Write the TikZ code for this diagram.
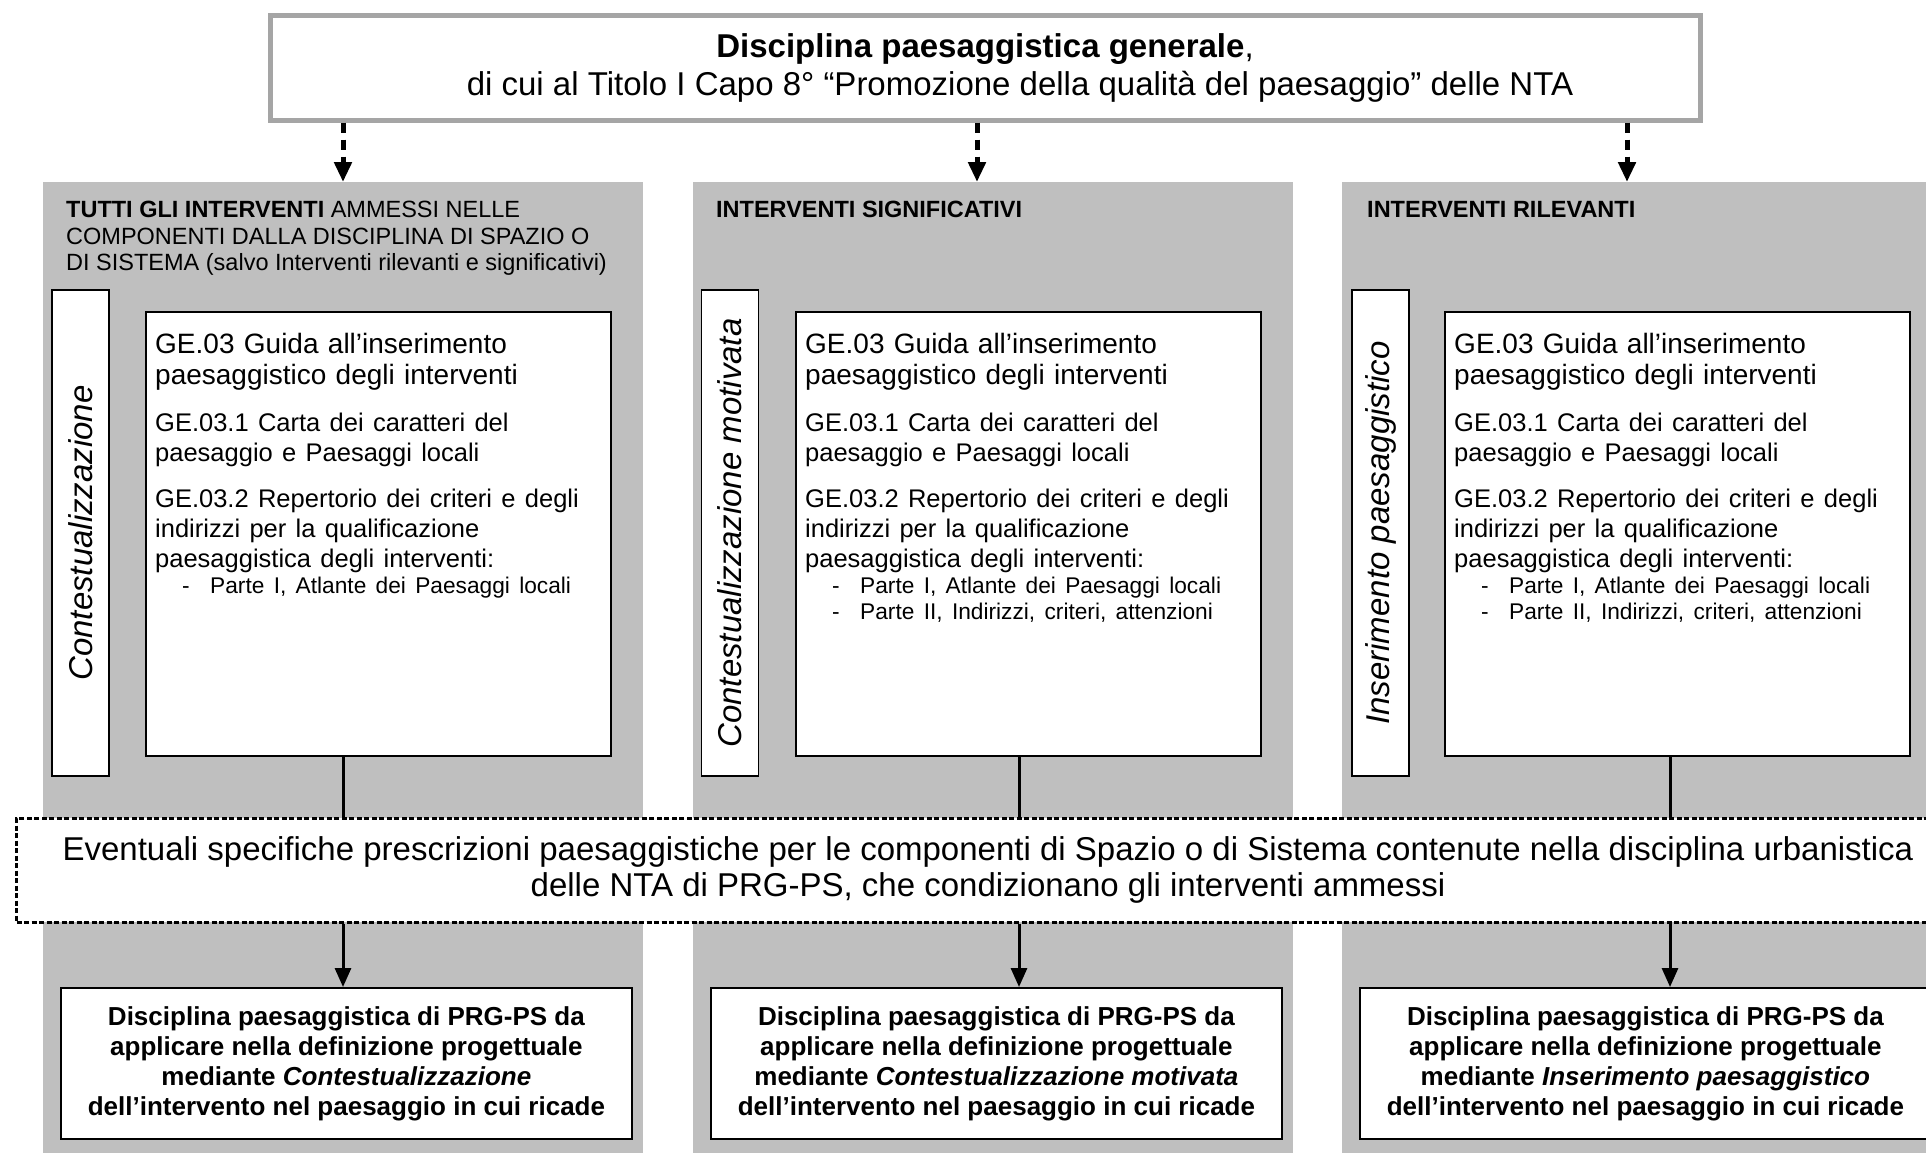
\documentclass[tikz,border=0pt]{standalone}
\usepackage{fontspec}
\setmainfont{Liberation Sans}
\usetikzlibrary{arrows.meta}

\definecolor{panelgray}{RGB}{191,191,191}
\definecolor{framegray}{RGB}{165,165,165}
\setlength{\parindent}{0pt}

\newcommand{\parte}[1]{\makebox[55pt][l]{\hspace*{27pt}-}#1\par}
\newcommand{\guidetext}[1]{%
  GE.03 Guida all’inserimento\\
  paesaggistico degli interventi\par\vspace{17pt}
  \fontsize{25.5}{30}\selectfont
  GE.03.1 Carta dei caratteri del\\
  paesaggio e Paesaggi locali\par\vspace{16pt}
  GE.03.2 Repertorio dei criteri e degli\\
  indirizzi per la qualificazione\\
  paesaggistica degli interventi:\par
  \fontsize{22.7}{26}\selectfont #1}

\begin{document}
\begin{tikzpicture}[x=1pt, y=-1pt,
    panel/.style={fill=panelgray, inner sep=0, minimum width=600, minimum height=980, anchor=north west},
    box/.style={draw, fill=white, line width=1.8pt, inner sep=0},
    topbox/.style={box, draw=framegray, line width=5pt, minimum width=1430, minimum height=105, align=center, font=\fontsize{33}{38}\selectfont},
    sidebox/.style={box, rotate=90, minimum width=486, minimum height=57, font=\fontsize{33}{38}\selectfont\itshape},
    guidebox/.style={box, minimum width=465, minimum height=444, anchor=north west},
    resultbox/.style={box, minimum width=571, minimum height=151, anchor=north west, align=center, font=\fontsize{26}{30}\selectfont\bfseries},
    band/.style={box, line width=3pt, dash pattern=on 5pt off 2.5pt, minimum width=1943, minimum height=104, align=center, font=\fontsize{33}{36}\selectfont},
    head/.style={anchor=north west, inner sep=0, align=left, font=\fontsize{23.5}{26.5}\selectfont},
    guide/.style={anchor=north west, inner sep=0, text width=455, align=left, font=\fontsize{28}{31}\selectfont},
    dasharrow/.style={line width=5pt, dash pattern=on 10pt off 7pt, -{Triangle[length=20pt, width=17pt]}},
    link/.style={line width=3pt},
    linkarrow/.style={link, -{Triangle[length=19pt, width=16pt]}}]

    \useasboundingbox (0,0) rectangle (1926,1152);

    \coordinate (a1) at (343,0);
    \coordinate (a2) at (977,0);
    \coordinate (a3) at (1627,0);
    \coordinate (b1) at (343,0);
    \coordinate (b2) at (1019,0);
    \coordinate (b3) at (1670,0);

    \node[topbox] (top) at (985,67.5) {\textbf{Disciplina paesaggistica generale},\\
        \hspace*{70pt}di cui al Titolo I Capo 8° “Promozione della qualità del paesaggio” delle NTA};

    \node[panel] (p1) at (43,182) {};
    \node[panel] (p2) at (693,182) {};
    \node[panel] (p3) at (1342,182) {};

    \draw[dasharrow] (top.south -| a1) -- (p1.north -| a1);
    \draw[dasharrow] (top.south -| a2) -- (p2.north -| a2);
    \draw[dasharrow] (top.south -| a3) -- (p3.north -| a3);

    \node[head] (h1) at (66,201) {{\bfseries TUTTI GLI INTERVENTI} AMMESSI NELLE\\
        COMPONENTI DALLA DISCIPLINA DI SPAZIO O\\
        DI SISTEMA (salvo Interventi rilevanti e significativi)};
    \node[head] (h2) at (716,201) {\bfseries INTERVENTI SIGNIFICATIVI};
    \node[head] (h3) at (1367,201) {\bfseries INTERVENTI RILEVANTI};

    \node[sidebox] (s1) at (80.5,533) {Contestualizzazione};
    \node[sidebox] (s2) at (730,533) {Contestualizzazione motivata};
    \node[sidebox] (s3) at (1380.5,533) {Inserimento paesaggistico};

    \node[guidebox] (g1) at (145,311) {};
    \node[guidebox] (g2) at (795,311) {};
    \node[guidebox] (g3) at (1444,311) {};
    \node[guide] (t1) at (155,333) {\guidetext{\parte{Parte I, Atlante dei Paesaggi locali}}};
    \node[guide] (t2) at (805,333) {\guidetext{\parte{Parte I, Atlante dei Paesaggi locali}\parte{Parte II, Indirizzi, criteri, attenzioni}}};
    \node[guide] (t3) at (1454,333) {\guidetext{\parte{Parte I, Atlante dei Paesaggi locali}\parte{Parte II, Indirizzi, criteri, attenzioni}}};

    \draw[link] (g1.south -| b1) -- (818,818 -| b1);
    \draw[link] (g2.south -| b2) -- (818,818 -| b2);
    \draw[link] (g3.south -| b3) -- (818,818 -| b3);

    \node[band] (band) at (988,870) {Eventuali specifiche prescrizioni paesaggistiche per le componenti di Spazio o di Sistema contenute nella disciplina urbanistica\\
        delle NTA di PRG-PS, che condizionano gli interventi ammessi};

    \node[resultbox] (r1) at (60,987) {Disciplina paesaggistica di PRG-PS da\\applicare nella definizione progettuale\\mediante \textit{Contestualizzazione}\\dell’intervento nel paesaggio in cui ricade};
    \node[resultbox] (r2) at (710,987) {Disciplina paesaggistica di PRG-PS da\\applicare nella definizione progettuale\\mediante \textit{Contestualizzazione motivata}\\dell’intervento nel paesaggio in cui ricade};
    \node[resultbox] (r3) at (1359,987) {Disciplina paesaggistica di PRG-PS da\\applicare nella definizione progettuale\\mediante \textit{Inserimento paesaggistico}\\dell’intervento nel paesaggio in cui ricade};

    \draw[linkarrow] (band.south -| b1) -- (r1.north -| b1);
    \draw[linkarrow] (band.south -| b2) -- (r2.north -| b2);
    \draw[linkarrow] (band.south -| b3) -- (r3.north -| b3);
\end{tikzpicture}
\end{document}
